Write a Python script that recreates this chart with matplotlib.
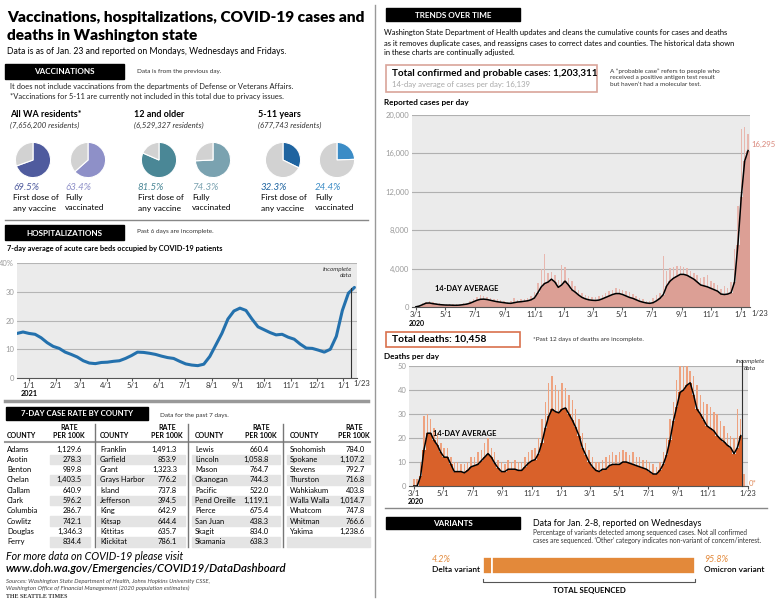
import numpy as np
import pandas as pd
import matplotlib
matplotlib.use("Agg")
import matplotlib.pyplot as plt
from matplotlib.patches import Rectangle
from matplotlib.lines import Line2D

W, H = 780, 601
plt.rcParams['font.family'] = ['Lato', 'DejaVu Sans']

# ---- data ----
vax_groups = ["All WA residents*", "12 and older", "5-11 years"]
vax_pop = ["(7,656,200 residents)", "(6,529,327 residents)", "(677,743 residents)"]
first_dose = [69.5, 81.5, 32.3]
fully_vax = [63.4, 74.3, 24.4]
first_colors = ["#4f5b9e", "#4a8796", "#1f64a0"]
full_colors = ["#8e90c8", "#7aa2b0", "#3b8cc6"]

# hospital beds, weekly from 2020-12-18 (percent)
hosp_pct = [15.5, 16.0, 15.5, 15.2, 14.0, 12.3, 11.0, 10.3, 9.0, 8.2,
            7.3, 6.0, 5.2, 5.0, 5.4, 5.5, 5.8, 6.0, 6.8, 7.8,
            9.0, 8.9, 8.6, 8.2, 7.6, 7.1, 6.8, 5.8, 4.9, 4.5,
            4.3, 4.8, 7.5, 11.5, 15.5, 20.5, 23.3, 24.3, 23.5, 20.5,
            17.8, 16.8, 15.8, 15.0, 15.2, 14.2, 13.5, 11.8, 10.4, 10.3,
            9.7, 9.0, 10.0, 14.5, 23.5, 29.5, 31.5]

counties = ["Adams", "Asotin", "Benton", "Chelan", "Clallam", "Clark", "Columbia", "Cowlitz", "Douglas", "Ferry",
            "Franklin", "Garfield", "Grant", "Grays Harbor", "Island", "Jefferson", "King", "Kitsap", "Kittitas", "Klickitat",
            "Lewis", "Lincoln", "Mason", "Okanogan", "Pacific", "Pend Oreille", "Pierce", "San Juan", "Skagit", "Skamania",
            "Snohomish", "Spokane", "Stevens", "Thurston", "Wahkiakum", "Walla Walla", "Whatcom", "Whitman", "Yakima"]
rates = [1129.6, 278.3, 989.8, 1403.5, 640.9, 596.2, 286.7, 742.1, 1346.3, 834.4,
         1491.3, 853.9, 1323.3, 776.2, 737.8, 394.5, 642.9, 644.4, 635.7, 786.1,
         660.4, 1058.8, 764.7, 744.3, 522.0, 1119.1, 675.4, 438.3, 834.0, 638.3,
         784.0, 1107.2, 792.7, 716.8, 403.8, 1014.7, 747.8, 766.6, 1238.6]

# cases per day, weekly from 2020-03-01
cases_avg = [20, 100, 250, 400, 420, 350, 300, 250, 220, 200,
             200, 180, 180, 200, 250, 300, 400, 550, 700, 800,
             820, 780, 700, 620, 550, 500, 450, 400, 380, 450,
             520, 550, 600, 650, 750, 950, 1500, 2100, 2450, 2600,
             2900, 2600, 2050, 2300, 2700, 2300, 1800, 1550, 1250, 1000,
             850, 750, 700, 680, 720, 850, 1000, 1150, 1300, 1400,
             1400, 1300, 1150, 1000, 900, 750, 600, 500, 420, 380,
             450, 650, 900, 1300, 2200, 2700, 3000, 3200, 3400, 3400,
             3300, 3100, 2900, 2600, 2300, 2200, 2100, 1950, 1800, 1650,
             1350, 1300, 1350, 1500, 2600, 6500, 11500, 15200, 16295]
cases_high = [50, 200, 450, 550, 600, 500, 450, 400, 350, 300,
              320, 300, 280, 350, 400, 450, 600, 800, 1000, 1200,
              1100, 1000, 950, 850, 800, 700, 600, 550, 600, 900,
              700, 800, 850, 900, 1100, 1600, 2500, 4000, 5500, 3500,
              3600, 3300, 2800, 4400, 4200, 3000, 2700, 2200, 1800, 1500,
              1300, 1100, 1000, 1000, 1100, 1300, 1500, 1700, 1800, 2000,
              1900, 1800, 1700, 1600, 1400, 1100, 900, 800, 650, 600,
              900, 1200, 1500, 5300, 3800, 4100, 4200, 4300, 4300, 4200,
              4100, 3800, 3500, 3300, 3000, 3100, 3300, 2700, 2500, 2300,
              1900, 2200, 2000, 2600, 6000, 10500, 18500, 18800, 18000]

# deaths per day, weekly from 2020-03-01
deaths_avg = [0, 0, 4, 15, 22, 22, 19, 17, 14, 12,
              12, 9, 6, 6, 6, 5.5, 6.5, 8, 8.5, 9,
              10.5, 12, 13.5, 12, 9.5, 7.5, 6, 6, 7, 7,
              7, 6.5, 6.5, 8, 9.5, 10.5, 11, 13.5, 18, 24,
              29, 32, 31, 30.5, 32, 32.5, 30, 27.5, 24.5, 21,
              16, 13, 10, 8, 6.5, 6, 7, 7, 8.5, 9,
              9, 9, 10, 10, 9.5, 9, 8.5, 8, 7.5, 7,
              6, 5, 5, 6.5, 9, 13, 19, 27, 33, 39,
              40, 42, 43, 38, 32, 30, 27.5, 25, 24, 23,
              21, 19.5, 18.5, 17, 16, 13.5, 16, 21]
deaths_high = [3, 3, 10, 29, 30, 28, 24, 22, 18, 16,
               16, 12, 10, 10, 9, 9, 10, 12, 12, 14,
               15, 18, 20, 16, 14, 11, 10, 9, 11, 10,
               11, 10, 10, 12, 14, 15, 16, 20, 28, 35,
               43, 46, 42, 40, 43, 41, 38, 36, 32, 28,
               22, 18, 15, 12, 10, 10, 11, 12, 13, 14,
               13, 14, 15, 14, 13, 14, 12, 12, 11, 11,
               10, 9, 8, 10, 14, 20, 28, 35, 44, 51,
               52, 50, 48, 46, 42, 38, 35, 34, 33, 31,
               30, 27, 25, 22, 21, 20, 32, 28, 5]

variant_names = ["Delta variant", "Omicron variant"]
variant_pct = [4.2, 95.8]

# ---- helpers (pixel coords, y from top) ----
fig = plt.figure(figsize=(W / 100, H / 100), dpi=100)


def txt(x, y, s, size=6, **kw):
    va = kw.pop("va", "center")
    fig.text(x / W, 1 - y / H, s, fontsize=size, va=va, **kw)


def add_ax(x0, y0, x1, y1):
    return fig.add_axes([x0 / W, 1 - y1 / H, (x1 - x0) / W, (y1 - y0) / H])


def rect(x0, y0, x1, y1, **kw):
    fig.add_artist(Rectangle((x0 / W, 1 - y1 / H), (x1 - x0) / W, (y1 - y0) / H,
                             transform=fig.transFigure, **kw))


def hline(x0, x1, y, color="#999999", lw=1):
    fig.add_artist(Line2D([x0 / W, x1 / W], [1 - y / H, 1 - y / H], color=color, lw=lw))


def black_box(x0, y0, x1, y1, label, size=5.9):
    rect(x0, y0, x1, y1, color="black")
    txt((x0 + x1) / 2, (y0 + y1) / 2 + 0.5, label, size, color="white", weight="bold", ha="center")


def style_axis(ax):
    ax.tick_params(axis="y", length=0, labelsize=5.5, labelcolor="#9a9a9a", pad=2)
    ax.tick_params(axis="x", length=2, labelsize=5.5, labelcolor="#333333", color="#555555", pad=1)
    for s in ["top", "right", "left"]:
        ax.spines[s].set_visible(False)
    ax.spines["bottom"].set_color("#555555")


# ---- title ----
txt(7, 17, "Vaccinations, hospitalizations, COVID-19 cases and", 11.1, weight="heavy")
txt(7, 35, "deaths in Washington state", 11.1, weight="heavy")
txt(7, 51, "Data is as of Jan. 23 and reported on Mondays, Wednesdays and Fridays.", 6.2)

# divider lines
fig.add_artist(Line2D([375 / W, 375 / W], [1 - 5 / H, 1 - 597 / H], color="#999999", lw=1))
hline(5, 368, 220, "#888888", 1)
hline(5, 368, 401, "#999999", 2.5)
hline(385, 767, 508, "#888888", 1)

# ---- vaccinations ----
black_box(5, 64, 124, 79, "VACCINATIONS")
txt(137, 71, "Data is from the previous day.", 4.6, color="#333333")
txt(10, 87, "It does not include vaccinations from the departments of Defense or Veterans Affairs.", 5.4, color="#222222")
txt(10, 97, "*Vaccinations for 5-11 are currently not included in this total due to privacy issues.", 5.4, color="#222222")

group_x = [10, 134, 258]
pie_cx = [[33, 88], [159, 213], [283, 337]]
label_x = [[13, 65], [138, 192], [261, 315]]
r = 22
for g in range(3):
    txt(group_x[g], 114, vax_groups[g], 6.5, weight="bold")
    txt(group_x[g], 125, vax_pop[g], 5.6, style="italic", color="#333333")
    for k, (val, col, lab) in enumerate([(first_dose[g], first_colors[g], "First dose of\nany vaccine"),
                                         (fully_vax[g], full_colors[g], "Fully\nvaccinated")]):
        cx = pie_cx[g][k]
        ax = add_ax(cx - r, 160 - r, cx + r, 160 + r)
        ax.pie([val, 100 - val], colors=[col, "#d2d2d2"], startangle=90, counterclock=False,
               wedgeprops=dict(edgecolor="white", linewidth=0.8))
        ax.set_aspect("equal")
        txt(label_x[g][k], 188, f"{val}%", 7, style="italic", color=col)
        txt(label_x[g][k], 198, lab.split("\n")[0], 6)
        txt(label_x[g][k], 208, lab.split("\n")[1], 6)

# ---- hospitalizations ----
black_box(5, 225, 124, 240, "HOSPITALIZATIONS")
txt(137, 232, "Past 6 days are incomplete.", 4.6, color="#333333")
txt(7, 248, "7-day average of acute care beds occupied by COVID-19 patients", 5.3, weight="bold")

hosp_dates = pd.date_range("2020-12-18", periods=len(hosp_pct), freq="7D")
ax = add_ax(17, 263, 357, 378)
ax.set_facecolor("#ebebeb")
for v in [10, 20, 30, 40]:
    ax.axhline(v, color="#b5b5b5", lw=0.8, zorder=1)
ax.plot(hosp_dates, hosp_pct, color="#2471ad", lw=2.2, zorder=3, solid_capstyle="round")
ax.set_ylim(0, 40)
ax.set_xlim(pd.Timestamp("2020-12-18"), pd.Timestamp("2022-01-17"))
ax.axvline(pd.Timestamp("2022-01-10"), ymax=0.78, color="#333333", lw=0.8, zorder=4)
ax.text(pd.Timestamp("2022-01-11"), 38.5, "Incomplete\ndata", ha="right", va="top", fontsize=4.6,
        style="italic", color="#333333", linespacing=1.1)
ax.set_yticks([0, 10, 20, 30, 40])
ax.set_yticklabels(["0", "10", "20", "30", "40%"])
hosp_ticks = pd.date_range("2021-01-01", "2022-01-01", freq="MS")
ax.set_xticks(hosp_ticks)
ax.set_xticklabels([f"{d.month}/1" for d in hosp_ticks])
style_axis(ax)
txt(362, 384, "1/23", 5.5, color="#333333", ha="center")
txt(29, 393, "2021", 5.3, weight="bold", ha="center")

# ---- county table ----
black_box(6, 407, 148, 420, "7-DAY CASE RATE BY COUNTY", 5.6)
txt(160, 415, "Data for the past 7 days.", 4.6, color="#333333")
county_x = [7, 100, 195, 290]
rate_right = [82, 177, 269, 365]
rate_center = [69, 167, 261, 354]
shade = [(50, 90), (97, 185), (192, 280), (287, 370)]
row_y = [449 + 10.3 * i for i in range(10)]
for g in range(4):
    txt(county_x[g], 436, "COUNTY", 5, weight="bold")
    txt(rate_center[g], 428, "RATE", 5, weight="bold", ha="center")
    txt(rate_center[g], 436, "PER 100K", 5, weight="bold", ha="center")
    for i in range(10):
        idx = g * 10 + i
        if i % 2 == 1:
            rect(shade[g][0], row_y[i] - 4.8, shade[g][1], row_y[i] + 4.8, color="#e4e4e4", zorder=0)
        if idx < len(counties):
            txt(county_x[g], row_y[i], counties[idx], 5.4)
            txt(rate_right[g], row_y[i], f"{rates[idx]:,.1f}", 5.4, ha="right")
hline(5, 370, 442, "#999999", 1.5)
for x in [95, 188, 283]:
    fig.add_artist(Line2D([x / W, x / W], [1 - 424 / H, 1 - 547 / H], color="#777777", lw=1))

txt(6, 557, "For more data on COVID-19 please visit", 7.7, style="italic")
txt(6, 569, "www.doh.wa.gov/Emergencies/COVID19/DataDashboard", 8.2, style="italic", weight="semibold")
txt(6, 581, "Sources: Washington State Department of Health, Johns Hopkins University CSSE,", 4.3, style="italic", color="#444444")
txt(6, 588, "Washington Office of Financial Management (2020 population estimates)", 4.3, style="italic", color="#444444")
txt(6, 597, "THE SEATTLE TIMES", 4.3, family="Liberation Serif", weight="bold", color="#333333")

# ---- trends over time ----
black_box(386, 8, 520, 21, "TRENDS OVER TIME")
txt(384, 33, "Washington State Department of Health updates and cleans the cumulative counts for cases and deaths", 5.45)
txt(384, 43, "as it removes duplicate cases, and reassigns cases to correct dates and counties. The historical data shown", 5.45)
txt(384, 52, "in these charts are continually adjusted.", 5.45)

rect(386, 65, 597, 92, facecolor="white", edgecolor="#d9a49a", lw=1.2)
txt(392, 74, "Total confirmed and probable cases: 1,203,311", 7.1, weight="bold")
txt(392, 84, "14-day average of cases per day: 16,139", 5.6, color="#a8a8a8")
txt(610, 71, "A \u201cprobable case\u201d refers to people who", 4.6, color="#333333")
txt(610, 78, "received a positive antigen test result", 4.6, color="#333333")
txt(610, 85, "but haven\u2019t had a molecular test.", 4.6, color="#333333")
txt(384, 103, "Reported cases per day", 5.9, weight="bold")

case_dates = pd.date_range("2020-03-01", periods=len(cases_avg), freq="7D")
ax = add_ax(412, 115, 750, 307)
ax.set_facecolor("#ebebeb")
for v in [4000, 8000, 12000, 16000, 20000]:
    ax.axhline(v, color="#b0b0b0", lw=0.8, zorder=1)
ax.bar(case_dates, cases_high, width=3, color="#e8b7af", zorder=2, linewidth=0)
ax.bar(case_dates, cases_avg, width=7, color="#dc9f95", zorder=2, linewidth=0)
ax.plot(case_dates, cases_avg, color="black", lw=1.1, zorder=3)
ax.set_ylim(0, 20000)
ax.set_xlim(pd.Timestamp("2020-02-22"), pd.Timestamp("2022-01-20"))
ax.set_yticks([0, 4000, 8000, 12000, 16000, 20000])
ax.set_yticklabels(["0", "4,000", "8,000", "12,000", "16,000", "20,000"])
case_ticks = pd.date_range("2020-03-01", "2022-01-01", freq="2MS")
ax.set_xticks(case_ticks)
ax.set_xticklabels([f"{d.month}/1" for d in case_ticks])
style_axis(ax)
ax.text(case_dates[-1] + pd.Timedelta(days=6), cases_avg[-1] + 600, f"{cases_avg[-1]:,}", fontsize=5.6,
        color="#d9877b", va="center", ha="left", clip_on=False)
ax.text(pd.Timestamp("2020-04-10"), 1900, "14-DAY AVERAGE", fontsize=5.4, weight="bold", va="center")
txt(760, 313, "1/23", 5.5, color="#333333", ha="center")
txt(417, 323, "2020", 5.0, weight="bold", ha="center")

# ---- deaths ----
rect(386, 332, 520, 347, facecolor="white", edgecolor="#d9714d", lw=1.2)
txt(392, 339.5, "Total deaths: 10,458", 7.4, weight="bold")
txt(533, 339, "*Past 12 days of deaths are incomplete.", 4.6, color="#333333")
txt(384, 356, "Deaths per day", 5.9, weight="bold")

death_dates = pd.date_range("2020-03-01", periods=len(deaths_high), freq="7D")
avg_dates = death_dates[:len(deaths_avg)]
ax = add_ax(409, 366, 748, 486)
ax.set_facecolor("#ebebeb")
for v in [10, 20, 30, 40, 50]:
    ax.axhline(v, color="#b0b0b0", lw=0.8, zorder=1)
ax.bar(death_dates, deaths_high, width=3, color="#eea27f", zorder=2, linewidth=0)
ax.bar(avg_dates, deaths_avg, width=7, color="#d9612a", zorder=2, linewidth=0)
ax.plot(avg_dates, deaths_avg, color="black", lw=1.1, zorder=3)
ax.set_ylim(0, 50)
ax.set_xlim(pd.Timestamp("2020-02-20"), pd.Timestamp("2022-01-24"))
ax.axvline(pd.Timestamp("2022-01-11"), ymax=1.05, color="#333333", lw=0.8, zorder=4, clip_on=False)
ax.set_yticks([0, 10, 20, 30, 40, 50])
death_ticks = list(pd.date_range("2020-03-01", "2021-11-01", freq="2MS")) + [pd.Timestamp("2022-01-23")]
ax.set_xticks(death_ticks)
ax.set_xticklabels([f"{d.month}/{d.day}" for d in death_ticks])
style_axis(ax)
ax.text(pd.Timestamp("2020-04-10"), 22, "14-DAY AVERAGE", fontsize=5.4, weight="bold", va="center")
txt(750, 361, "Incomplete", 4.6, style="italic", color="#333333", ha="center")
txt(750, 368, "data", 4.6, style="italic", color="#333333", ha="center")
txt(749, 483, "0*", 5.6, color="#e08a5a")
txt(416, 502, "2020", 5.0, weight="bold", ha="center")

# ---- variants ----
black_box(386, 517, 520, 529, "VARIANTS")
txt(533, 523, "Data for Jan. 2-8, reported on Wednesdays", 6.4)
txt(533, 533, "Percentage of variants detected among sequenced cases. Not all confirmed", 4.7, color="#333333")
txt(533, 541, "cases are sequenced. \u2018Other\u2019 category indicates non-variant of concern/interest.", 4.7, color="#333333")

var_ax = add_ax(483, 557, 695, 574)
left = 0
for p in variant_pct:
    var_ax.barh(0, p, left=left, height=1, color="#e3893a", edgecolor="white", linewidth=1.2)
    left += p
var_ax.set_xlim(0, 100)
var_ax.set_ylim(-0.5, 0.5)
var_ax.axis("off")
txt(432, 560, f"{variant_pct[0]}%", 6.4, style="italic", color="#e3893a")
txt(432, 570, variant_names[0], 6, weight="semibold")
txt(704, 560, f"{variant_pct[1]}%", 6.4, style="italic", color="#e3893a")
txt(704, 570, variant_names[1], 6, weight="semibold")
fig.add_artist(Line2D([483 / W, 483 / W, 695 / W, 695 / W],
                      [1 - 579 / H, 1 - 582 / H, 1 - 582 / H, 1 - 579 / H], color="#555555", lw=0.8))
txt(589, 590, "TOTAL SEQUENCED", 5.6, weight="bold", ha="center")

fig.savefig("out.png", dpi=100)
